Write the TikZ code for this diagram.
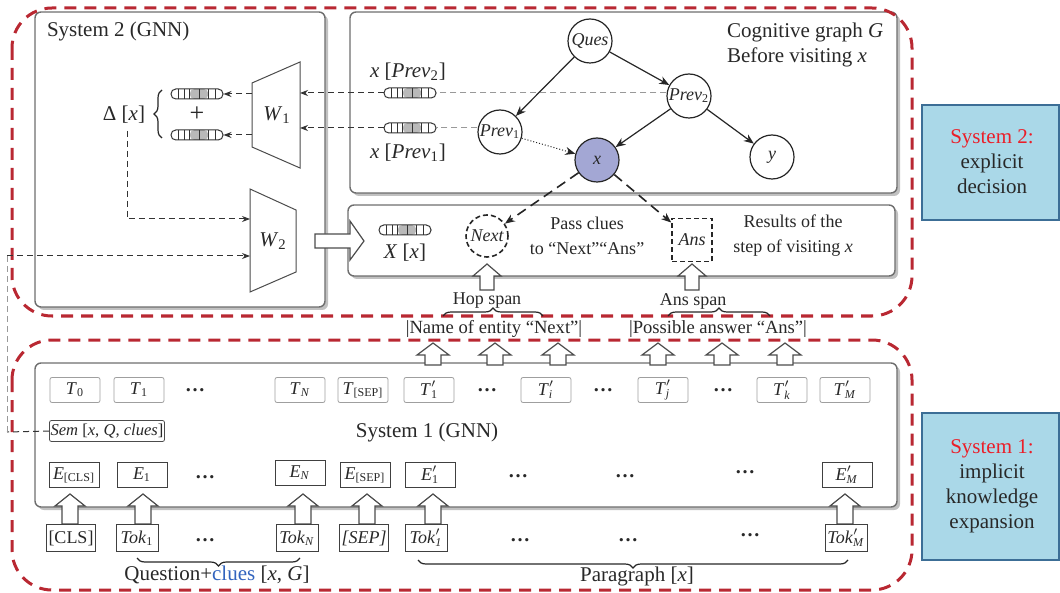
\documentclass[tikz,border=0pt]{standalone}
\usepackage{fontspec}
\setmainfont{Liberation Serif}
\usepackage{amsmath}
\usetikzlibrary{arrows.meta,shadows,decorations.pathreplacing,calc,shapes.geometric}
\definecolor{sysred}{RGB}{185,40,50}
\definecolor{boxblue}{RGB}{170,216,232}
\definecolor{boxblueb}{RGB}{60,110,150}
\definecolor{nodex}{RGB}{163,167,212}
\definecolor{panelgray}{RGB}{110,110,110}
\definecolor{cluesblue}{RGB}{50,100,190}
\definecolor{redtxt}{RGB}{235,30,40}
\definecolor{txt}{RGB}{40,40,40}
\newcommand{\sbs}[2]{\textit{#1}$_{\text{#2}}$}
\newcommand{\sbi}[2]{\textit{#1}$_{\text{\textit{#2}}}$}
\newcommand{\spr}[2]{\textit{#1}$'_{\text{\textit{#2}}}$}
\newcommand{\UpArr}[6]{\draw[barr] ({#1},{#2}) -- ({#1+#5},{#3}) -- ({#1+#6},{#3}) -- ({#1+#6},{#4}) -- ({#1-#6},{#4}) -- ({#1-#6},{#3}) -- ({#1-#5},{#3}) -- cycle;}
\begin{document}
\begin{tikzpicture}[x=0.5pt,y=-0.5pt,
  font=\fontsize{10.5}{12.5}\selectfont, text=txt,
  panel/.style={draw=panelgray, line width=0.7pt, fill=white, rounded corners=3pt,
     drop shadow={shadow xshift=1.5pt, shadow yshift=-1.5pt, opacity=0.35, fill=black!70}},
  redout/.style={draw=sysred, line width=1.5pt, dash pattern=on 6pt off 4pt, rounded corners=20pt},
  sysbox/.style={draw=boxblueb, line width=1pt, fill=boxblue},
  gnode/.style={circle, draw=black!85, line width=0.6pt, minimum size=22pt, inner sep=0pt, font=\fontsize{9}{10}\selectfont\itshape},
  tbox/.style={draw=gray!75, rounded corners=1pt, minimum width=25pt, minimum height=12.5pt, inner sep=0pt, font=\fontsize{9}{10}\selectfont},
  ebox/.style={draw=black!75, minimum width=25pt, minimum height=12.5pt, inner sep=0pt, font=\fontsize{9}{10}\selectfont},
  tokbox/.style={draw=black!75, minimum width=21pt, minimum height=13.5pt, inner sep=1pt, font=\fontsize{9}{10}\selectfont},
  dots/.style={font=\fontsize{10}{10}\selectfont},
  darr/.style={draw=black!80, dash pattern=on 3pt off 2pt, line width=0.5pt, -{Stealth[length=4pt,width=3pt]}},
  dln/.style={draw=black!80, dash pattern=on 3pt off 2pt, line width=0.5pt},
  garr/.style={draw=gray!80, dash pattern=on 3pt off 2pt, line width=0.5pt},
  garrow/.style={draw=black!85, line width=0.6pt, -{Stealth[length=5pt,width=4pt]}},
  xarr/.style={draw=black!85, line width=0.8pt, dash pattern=on 5pt off 3pt, -{Stealth[length=5pt,width=4pt]}},
  barr/.style={draw=black!70, fill=white, line width=0.6pt},
  brc/.style={draw=black!85, decorate, decoration={brace, amplitude=4pt}, line width=0.6pt},
  small/.style={font=\fontsize{9}{12.5}\selectfont},
  pill/.style={draw=black!80, line width=0.5pt, rounded corners=2.4pt, minimum width=26pt, minimum height=5pt, inner sep=0pt, fill=white,
    path picture={
      \fill[gray!55] ($(path picture bounding box.south west)!0.36!(path picture bounding box.south east)$) rectangle ($(path picture bounding box.north west)!0.72!(path picture bounding box.north east)$);
      \foreach \f in {0.14,0.26,0.36,0.54,0.72,0.86}
        \draw[line width=0.4pt] ($(path picture bounding box.south west)!\f!(path picture bounding box.south east)$) -- ($(path picture bounding box.north west)!\f!(path picture bounding box.north east)$);
    }}
]
\useasboundingbox (0,0) rectangle (1060,593);

% ---------- panels ----------
\draw[panel] (35,12) rectangle (325,307);
\draw[panel] (350,12) rectangle (897,193);
\draw[panel] (348,205) rectangle (895,276);
\draw[panel] (35,363) rectangle (897,507);

% ---------- red outlines ----------
\draw[redout] (12,8) rectangle (912,316);
\draw[redout] (12,340) rectangle (912,590);

% ---------- blue boxes ----------
\draw[sysbox] (922,105) rectangle (1059,220);
\draw[sysbox] (922,413) rectangle (1059,560);
\node[align=center] (s2t) at (992,162) {\textcolor{redtxt}{System 2:}\\explicit\\decision};
\node[align=center] (s1t) at (992,486) {\textcolor{redtxt}{System 1:}\\implicit\\knowledge\\expansion};

% ---------- System 2 (GNN) ----------
\node[anchor=west] (s2lbl) at (40,31) {System 2 (GNN)};
\draw[draw=black!70, line width=0.5pt] (252,83) -- (300,62) -- (300,168) -- (252,147) -- cycle;
\node (w1) at (277,115) {\sbs{W}{1}};
\draw[draw=black!70, line width=0.5pt] (250,189) -- (296,210) -- (296,272) -- (250,292) -- cycle;
\node (w2) at (273,241) {\sbs{W}{2}};
\coordinate (w1o1) at (252,94);
\coordinate (w1o2) at (252,135);
\coordinate (w1i1) at (300,93);
\coordinate (w1i2) at (300,128);
\coordinate (w2i1) at (250,219);
\coordinate (w2i2) at (250,256);
\node[pill] (p1) at (197,94) {};
\node[pill] (p2) at (197,135) {};
\node[font=\fontsize{13}{13}\selectfont] (plus) at (197,114) {+};
\draw[brc] (162,138) -- (162,90);
\node (delta) at (124,115) {Δ [\textit{x}]};
\draw[darr] (w1o1) -- (p1.east);
\draw[darr] (w1o2) -- (p2.east);
\coordinate (dd) at (127,219);
\draw[darr] (delta.south -| dd) -- (dd) -- (w2i1);
\coordinate (lv1) at (7,256);
\coordinate (lv2) at (7,432);

% ---------- Cognitive graph ----------
\node[gnode] (ques) at (590,41) {Ques};
\node[gnode] (prev2) at (689,96) {Prev\textsubscript{\upshape 2}};
\node[gnode] (prev1) at (500,132) {Prev\textsubscript{\upshape 1}};
\node[gnode, fill=nodex] (xn) at (597,160) {x};
\node[gnode] (yn) at (772,157) {y};
\draw[garrow] (ques) -- (prev1);
\draw[garrow] (ques) -- (prev2);
\draw[garrow] (prev2) -- (xn);
\draw[garrow] (prev2) -- (yn);
\draw[draw=black!85, line width=0.5pt, densely dotted, -{Stealth[length=5pt,width=4pt]}] (prev1) -- (xn);
\node[anchor=west, align=left] (cgl) at (720,45) {Cognitive graph \textit{G}\\Before visiting \textit{x}};
\node[pill] (pp2) at (410,93) {};
\node[pill] (pp1) at (410,128) {};
\node (lp2) at (408,72) {\textit{x} [\textit{Prev}\textsubscript{2}]};
\node (lp1) at (408,153) {\textit{x} [\textit{Prev}\textsubscript{1}]};
\draw[garr] (prev2.west |- pp2.east) -- (pp2.east);
\draw[garr] (prev1.west |- pp1.east) -- (pp1.east);
\draw[darr] (pp2.west) -- (w1i1);
\draw[darr] (pp1.west) -- (w1i2);

% ---------- Results ----------
\draw[barr] (315,234) -- (350,234) -- (350,221) -- (364,241) -- (350,260) -- (350,248) -- (315,248) -- cycle;
\node[pill] (px) at (405,230) {};
\node (Xx) at (405,253) {\textit{X} [\textit{x}]};
\node[circle, draw=black!85, dash pattern=on 2.5pt off 1.5pt, line width=0.8pt, minimum size=21pt, inner sep=0pt, font=\fontsize{9}{10}\selectfont\itshape] (next) at (487,236) {Next};
\node[draw=black!85, dash pattern=on 2.5pt off 1.5pt, line width=0.8pt, minimum width=20pt, minimum height=21.5pt, inner sep=0pt, font=\fontsize{9}{10}\selectfont\itshape] (ans) at (692,240) {Ans};
\draw[xarr] (xn) -- (next);
\draw[xarr] (xn) -- (ans);
\node[small, align=center] (pass) at (587,236) {Pass clues\\to “Next”“Ans”};
\node[small, align=center] (res) at (793,236) {Results of the\\step of visiting \textit{x}};
\UpArr{487}{264}{276}{290}{14}{7}
\UpArr{692}{264}{276}{290}{14}{7}
\node[small] (hop) at (487,301) {Hop span};
\node[small] (anss) at (693,301) {Ans span};
\draw[brc] (443,316) -- (543,316);
\draw[brc] (668,316) -- (770,316);
\node[font=\fontsize{9.3}{11}\selectfont] (name) at (494,329) {|Name of entity “Next”|};
\node[font=\fontsize{9.3}{11}\selectfont] (poss) at (718,329) {|Possible answer “Ans”|};
\foreach \xx in {433,495,558,658,722,785} { \UpArr{\xx}{343}{355}{365}{16}{8} }

% ---------- System 1 ----------
\node[tbox] (t0) at (75,390) {\sbs{T}{0}};
\node[tbox] (t1) at (139,390) {\sbs{T}{1}};
\node[dots] (td1) at (195,390) {\textbf{…}};
\node[tbox] (tn) at (300,390) {\sbi{T}{N}};
\node[tbox] (tsep) at (363,390) {\sbs{T}{[SEP]}};
\node[tbox] (tp1) at (429,390) {\textit{T}$'_{\text{1}}$};
\node[dots] (td2) at (487,390) {\textbf{…}};
\node[tbox] (tpi) at (546,390) {\spr{T}{i}};
\node[dots] (td3) at (603,390) {\textbf{…}};
\node[tbox] (tpj) at (663,390) {\spr{T}{j}};
\node[dots] (td4) at (723,390) {\textbf{…}};
\node[tbox] (tpk) at (782,390) {\spr{T}{k}};
\node[tbox] (tpm) at (845,390) {\spr{T}{M}};

\node[draw=black!70, rounded corners=1pt, minimum width=57.5pt, minimum height=10.5pt, inner sep=0pt, font=\fontsize{8.3}{10}\selectfont] (sem) at (107,431) {\textit{Sem} [\textit{x}, \textit{Q}, \textit{clues}]};
\node (s1lbl) at (427,432) {System 1 (GNN)};
\draw[dln] (sem.west) -- (lv2);
\draw[garr] (lv2) -- (lv1);
\draw[darr] (lv1) -- (w2i2);

\node[ebox] (ecls) at (74,475) {\sbs{E}{[CLS]}};
\node[ebox] (e1) at (142,475) {\sbs{E}{1}};
\node[dots] (ed1) at (205,477) {\textbf{…}};
\node[ebox] (en) at (300,473) {\sbi{E}{N}};
\node[ebox] (esep) at (365,475) {\sbs{E}{[SEP]}};
\node[ebox] (ep1) at (430,475) {\textit{E}$'_{\text{1}}$};
\node[dots] (ed2) at (518,476) {\textbf{…}};
\node[dots] (ed3) at (625,476) {\textbf{…}};
\node[dots] (ed4) at (745,472) {\textbf{…}};
\node[ebox] (epm) at (847,475) {\spr{E}{M}};

\foreach \xx in {70,143,303,367,433,845} { \UpArr{\xx}{494}{506}{524}{15}{8} }

\node[tokbox] (tcls) at (71,538) {[CLS]};
\node[tokbox] (tok1) at (137,538) {\sbs{Tok}{1}};
\node[dots] (kd1) at (205,540) {\textbf{…}};
\node[tokbox] (tokn) at (297,538) {\sbi{Tok}{N}};
\node[tokbox] (toksep) at (364,538) {\textit{[SEP]}};
\node[tokbox] (tokp1) at (426,538) {\spr{Tok}{1}};
\node[dots] (kd2) at (520,540) {\textbf{…}};
\node[dots] (kd3) at (628,540) {\textbf{…}};
\node[dots] (kd4) at (750,535) {\textbf{…}};
\node[tokbox] (tokpm) at (846,538) {\spr{Tok}{M}};

\draw[brc] (300,558) -- (137,558);
\node (qc) at (217,575) {Question+\textcolor{cluesblue}{clues} [\textit{x}, \textit{G}]};
\draw[brc] (848,560) -- (418,560);
\node (para) at (637,576) {Paragraph [\textit{x}]};
\end{tikzpicture}
\end{document}
